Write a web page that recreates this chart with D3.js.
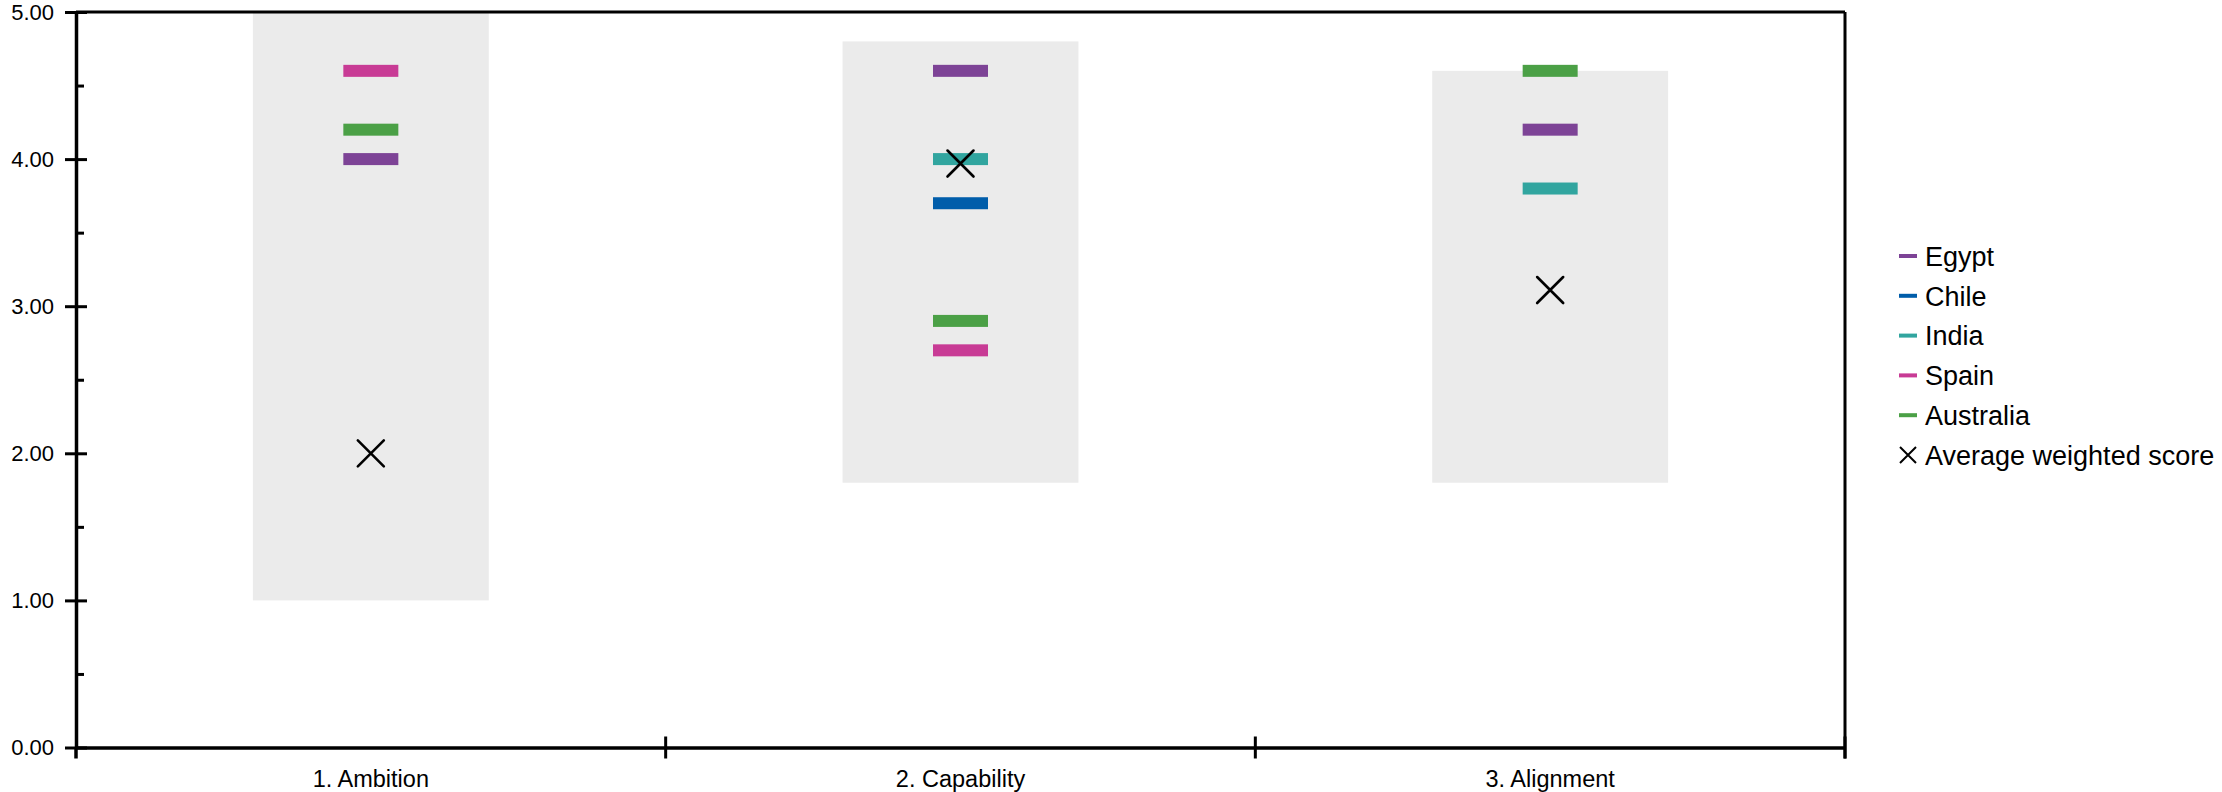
<!DOCTYPE html>
<html>
<head>
<meta charset="utf-8">
<script src="https://cdn.jsdelivr.net/npm/d3@7"></script>
<style>
  body { margin: 0; background: #fff; }
  svg text { font-family: "Liberation Sans", Arial, sans-serif; fill: #000; }
</style>
</head>
<body>
<svg id="chart" width="2222" height="792"></svg>
<script>
// data
var categories = ["1. Ambition", "2. Capability", "3. Alignment"];
var rangeLow  = [1.0, 1.8, 1.8];
var rangeHigh = [5.0, 4.8, 4.6];

var seriesNames  = ["Egypt", "Chile", "India", "Spain", "Australia"];
var seriesColors = ["#7D4396", "#005DAA", "#31A59F", "#C83B95", "#4BA046"];
var egypt     = [4.0, 4.6, 4.2];
var chile     = [null, 3.7, null];
var india     = [null, 4.0, 3.8];
var spain     = [4.6, 2.7, null];
var australia = [4.2, 2.9, 4.6];
var seriesValues = [egypt, chile, india, spain, australia];

var avgName = "Average weighted score";
var average = [2.0, 3.97, 3.11];

var yTicks = [0, 1, 2, 3, 4, 5];
var yMinor = [0.5, 1.5, 2.5, 3.5, 4.5];

// plot box (don't call it "top", window.top is read only)
var plotLeft = 76, plotRight = 1845, plotTop = 12, plotBottom = 747.5;

var svg = d3.select("#chart");

var x = d3.scaleBand().domain(categories).range([plotLeft, plotRight]).padding(0);
var y = d3.scaleLinear().domain([0, 5]).range([plotBottom, plotTop]);

var barW = x.step() * 0.4;
var dashW = 55, dashH = 12;

// grey range boxes
svg.append("g").selectAll("rect")
  .data(categories)
  .enter()
  .append("rect")
  .attr("x", function(d) { return x(d) + x.bandwidth() / 2 - barW / 2; })
  .attr("width", barW)
  .attr("y", function(d, i) { return y(rangeHigh[i]); })
  .attr("height", function(d, i) { return y(rangeLow[i]) - y(rangeHigh[i]); })
  .attr("fill", "#EBEBEB");

// country dashes
seriesNames.forEach(function(name, s) {
  var pts = [];
  seriesValues[s].forEach(function(v, i) {
    if (v != null) pts.push({ cat: categories[i], v: v });
  });
  svg.append("g").selectAll("rect")
    .data(pts)
    .enter()
    .append("rect")
    .attr("x", function(d) { return x(d.cat) + x.bandwidth() / 2 - dashW / 2; })
    .attr("y", function(d) { return y(d.v) - dashH / 2; })
    .attr("width", dashW)
    .attr("height", dashH)
    .attr("fill", seriesColors[s]);
});

// average crosses
function cross(g, cx, cy, h, w) {
  return g.append("path")
    .attr("d", "M" + (cx - h) + "," + (cy - h) + "L" + (cx + h) + "," + (cy + h) +
               "M" + (cx - h) + "," + (cy + h) + "L" + (cx + h) + "," + (cy - h))
    .attr("stroke", "#000")
    .attr("stroke-width", w)
    .attr("stroke-linecap", "round")
    .attr("fill", "none");
}
var avgG = svg.append("g");
average.forEach(function(v, i) {
  cross(avgG, x(categories[i]) + x.bandwidth() / 2, y(v), 13, 2.6);
});

// frame: top and right lines
svg.append("line")
  .attr("x1", plotLeft).attr("x2", plotRight).attr("y1", plotTop).attr("y2", plotTop)
  .attr("stroke", "#000").attr("stroke-width", 3);
svg.append("line")
  .attr("x1", plotRight).attr("x2", plotRight).attr("y1", plotTop).attr("y2", plotBottom + 11)
  .attr("stroke", "#000").attr("stroke-width", 3);

// y axis
var yAxis = svg.append("g")
  .attr("transform", "translate(" + plotLeft + ",0)")
  .call(d3.axisLeft(y).tickValues(yTicks).tickFormat(d3.format(".2f"))
    .tickSizeInner(11).tickSizeOuter(0).tickPadding(11));
yAxis.selectAll("text").style("font-size", "22px");
yAxis.select(".domain").attr("stroke-width", 3.5);
yAxis.selectAll(".tick line").attr("stroke-width", 3);

svg.append("g")
  .attr("transform", "translate(" + plotLeft + ",0)")
  .call(d3.axisRight(y).tickValues(yTicks).tickFormat("").tickSizeInner(11).tickSizeOuter(0))
  .call(function(g) { g.select(".domain").remove(); })
  .selectAll(".tick line").attr("stroke-width", 3);

svg.append("g")
  .attr("transform", "translate(" + plotLeft + ",0)")
  .call(d3.axisRight(y).tickValues(yMinor).tickFormat("").tickSizeInner(8).tickSizeOuter(0))
  .call(function(g) { g.select(".domain").remove(); })
  .selectAll(".tick line").attr("stroke-width", 3);

// y axis runs a bit below the baseline
svg.append("line")
  .attr("x1", plotLeft).attr("x2", plotLeft).attr("y1", plotBottom).attr("y2", plotBottom + 11)
  .attr("stroke", "#000").attr("stroke-width", 3.5);

// x axis
var xAxis = svg.append("g")
  .attr("transform", "translate(0," + plotBottom + ")")
  .call(d3.axisBottom(x).tickSize(0).tickPadding(23));
xAxis.selectAll("text").style("font-size", "23.5px");
xAxis.select(".domain").attr("stroke-width", 3.5);

// category separators + right end tick
svg.append("g").selectAll("line")
  .data(categories)
  .enter()
  .append("line")
  .attr("x1", function(d) { return x(d) + x.step(); })
  .attr("x2", function(d) { return x(d) + x.step(); })
  .attr("y1", plotBottom - 11)
  .attr("y2", plotBottom + 11)
  .attr("stroke", "#000")
  .attr("stroke-width", 3);

// legend
var legY = 256, legStep = 39.8, legX = 1899;
var legend = svg.append("g");
seriesNames.forEach(function(name, i) {
  var cy = legY + i * legStep;
  legend.append("rect")
    .attr("x", legX).attr("y", cy - 2)
    .attr("width", 18).attr("height", 4)
    .attr("fill", seriesColors[i]);
  legend.append("text")
    .attr("x", legX + 26).attr("y", cy + 9.7)
    .style("font-size", "27px")
    .text(name);
});
var avgY = legY + seriesNames.length * legStep;
cross(legend, legX + 9, avgY, 8, 2).attr("stroke-linecap", "butt");
legend.append("text")
  .attr("x", legX + 26).attr("y", avgY + 9.7)
  .style("font-size", "27px")
  .text(avgName);
</script>
</body>
</html>
